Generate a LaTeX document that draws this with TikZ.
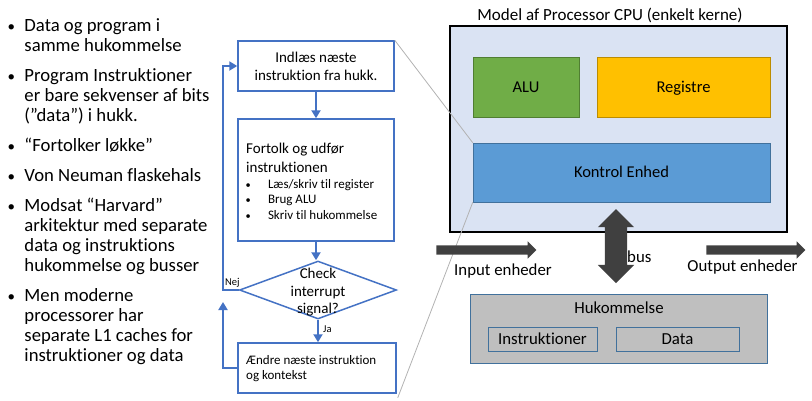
\documentclass[tikz,border=0pt]{standalone}
\usepackage{fontspec}
\setmainfont{Carlito}[Ligatures=NoCommon]
\usetikzlibrary{arrows.meta,shapes.geometric,shapes.arrows}
\definecolor{flowblue}{HTML}{4472C4}
\definecolor{cpufill}{HTML}{DAE3F3}
\definecolor{alufill}{HTML}{70AD47}
\definecolor{aluline}{HTML}{507E32}
\definecolor{regfill}{HTML}{FFC000}
\definecolor{regline}{HTML}{BC8C00}
\definecolor{ctrlfill}{HTML}{5B9BD5}
\definecolor{ctrlline}{HTML}{41719C}
\definecolor{memfill}{HTML}{BFBFBF}
\definecolor{busgrey}{HTML}{404040}
\newcommand{\pointdot}{\scalebox{0.8}{\textbullet}}
\tikzset{
    flowbox/.style={draw=flowblue, line width=1.5pt, minimum width=156, inner sep=0},
    flow/.style={draw=flowblue, line width=2.5pt, -{Triangle[length=8pt,width=9pt]}},
    block/.style={inner sep=0, minimum height=60, text height=11, text depth=1,
        font=\fontsize{16.5}{19}\selectfont},
    membox/.style={draw=ctrlline, fill=memfill, line width=0.8pt, inner sep=0,
        text height=11, text depth=1, font=\fontsize{16.8}{19}\selectfont},
    bigarrow/.style={fill=busgrey, inner xsep=0},
    lbl/.style={inner sep=0, font=\fontsize{16.8}{19}\selectfont},
    zoomline/.style={draw=black!30, line width=0.8pt},
}
\begin{document}
\begin{tikzpicture}[x=1pt,y=-1pt]
\useasboundingbox (0,0) rectangle (812,400);
% punkter til venstre
\node[anchor=north west, inner sep=0, font=\fontsize{18.7}{20}\selectfont] (points) at (7.5,17.7) {%
\begin{tabular}{@{}p{16.8pt}@{}l@{}}
\pointdot & Data og program i\\
          & samme hukommelse\\[10pt]
\pointdot & Program Instruktioner\\
          & er bare sekvenser af bits\\
          & (”data”) i hukk.\\[10pt]
\pointdot & “Fortolker løkke”\\[10pt]
\pointdot & Von Neuman flaskehals\\[10pt]
\pointdot & Modsat “Harvard”\\
          & arkitektur med separate\\
          & data og instruktions\\
          & hukommelse og busser\\[10pt]
\pointdot & Men moderne\\
          & processorer har\\
          & separate L1 caches for\\
          & instruktioner og data
\end{tabular}};
% flowchart
\node[flowbox, minimum height=50, align=center, font=\fontsize{15}{18}\selectfont] (fetch) at (316,66)
    {Indlæs næste\\instruktion fra hukk.};
\node[flowbox, minimum height=122] (decode) at (316,180) {};
\node[anchor=north west, inner sep=0, font=\fontsize{15}{19}\selectfont] (decodehead) at (246,139.7)
    {\begin{tabular}{@{}l@{}}Fortolk og udfør\\instruktionen\end{tabular}};
\node[anchor=north west, inner sep=0, font=\fontsize{13}{15.5}\selectfont] (decodelist) at (245.5,177.2)
    {\begin{tabular}{@{}p{22.3pt}@{}l@{}}
    \pointdot & Læs/skriv til register\\
    \pointdot & Brug ALU\\
    \pointdot & Skriv til hukommelse
    \end{tabular}};
\node[diamond, draw=flowblue, line width=1.5pt, minimum width=157, minimum height=58, inner sep=0] (check) at (318,290) {};
\node[align=center, inner sep=0, font=\fontsize{15}{17.5}\selectfont] (checktxt) at ([yshift=-2.5]check.center)
    {Check\\interrupt\\signal?};
\node[flowbox, minimum width=158, minimum height=50] (change) at (317,368) {};
\node[anchor=west, align=left, inner sep=0, font=\fontsize{13}{15}\selectfont] (changetxt) at (246,369)
    {Ændre næste instruktion\\og kontekst};
\coordinate (loop) at (223,0);
\coordinate (nejup) at (223,302);
\draw[flow] (fetch) -- (decode);
\draw[flow] (decode.south) -- (decode.south |- check.north);
\draw[flow] (check.south) -- (check.south |- change.north);
\draw[flow] (check.west) -| (loop |- fetch.west) -- (fetch.west);
\draw[flow] (change.west) -| (nejup);
\node[anchor=base west, inner sep=0, font=\fontsize{10.5}{12}\selectfont] (nej) at (225,285.7) {Nej};
\node[anchor=base west, inner sep=0, font=\fontsize{10.5}{12}\selectfont] (ja) at (323,332) {Ja};
% processor
\node[draw=black, line width=2.5pt, fill=cpufill, minimum width=337, minimum height=206, inner sep=0] (cpu) at (618.5,129) {};
\node[anchor=base, inner sep=0, font=\fontsize{17}{19}\selectfont] (cputitle) at (610,20)
    {Model af Processor CPU (enkelt kerne)};
\node[block, draw=aluline, fill=alufill, minimum width=106] (alu) at (526,87) {ALU};
\node[block, draw=regline, fill=regfill, minimum width=173] (reg) at (683.5,87) {Registre};
\node[block, draw=ctrlline, fill=ctrlfill, minimum width=297, minimum height=59] (ctrl) at (621.5,172.5) {Kontrol Enhed};
\draw[zoomline] (fetch.north east) -- (ctrl.north west);
\draw[zoomline] (ctrl.south west) -- ([shift={(1,4)}]change.south east);
% bus og enheder
\node[bigarrow, double arrow, rotate=90, inner ysep=11, minimum height=74, double arrow head extend=7] (bus) at (616,246) {};
\node[bigarrow, single arrow, inner ysep=4.5, minimum height=100, single arrow head extend=4] (input) at (484,250) {};
\node[bigarrow, single arrow, inner ysep=4.5, minimum height=99, single arrow head extend=4] (output) at (753.5,250) {};
\node[lbl, anchor=base west] (buslbl) at (627,262.7) {bus};
\node[lbl, anchor=base] (inputlbl) at (503,275) {Input enheder};
\node[lbl, anchor=base] (outputlbl) at (742.5,271.7) {Output enheder};
% hukommelse
\node[membox, minimum width=297, minimum height=69] (mem) at (618.5,328.5) {};
\node[lbl, anchor=base] (memlbl) at (619,313) {Hukommelse};
\node[membox, minimum width=109, minimum height=24] (instr) at (542.5,339) {Instruktioner};
\node[membox, minimum width=123, minimum height=24] (data) at (677.5,339) {Data};
\end{tikzpicture}
\end{document}
